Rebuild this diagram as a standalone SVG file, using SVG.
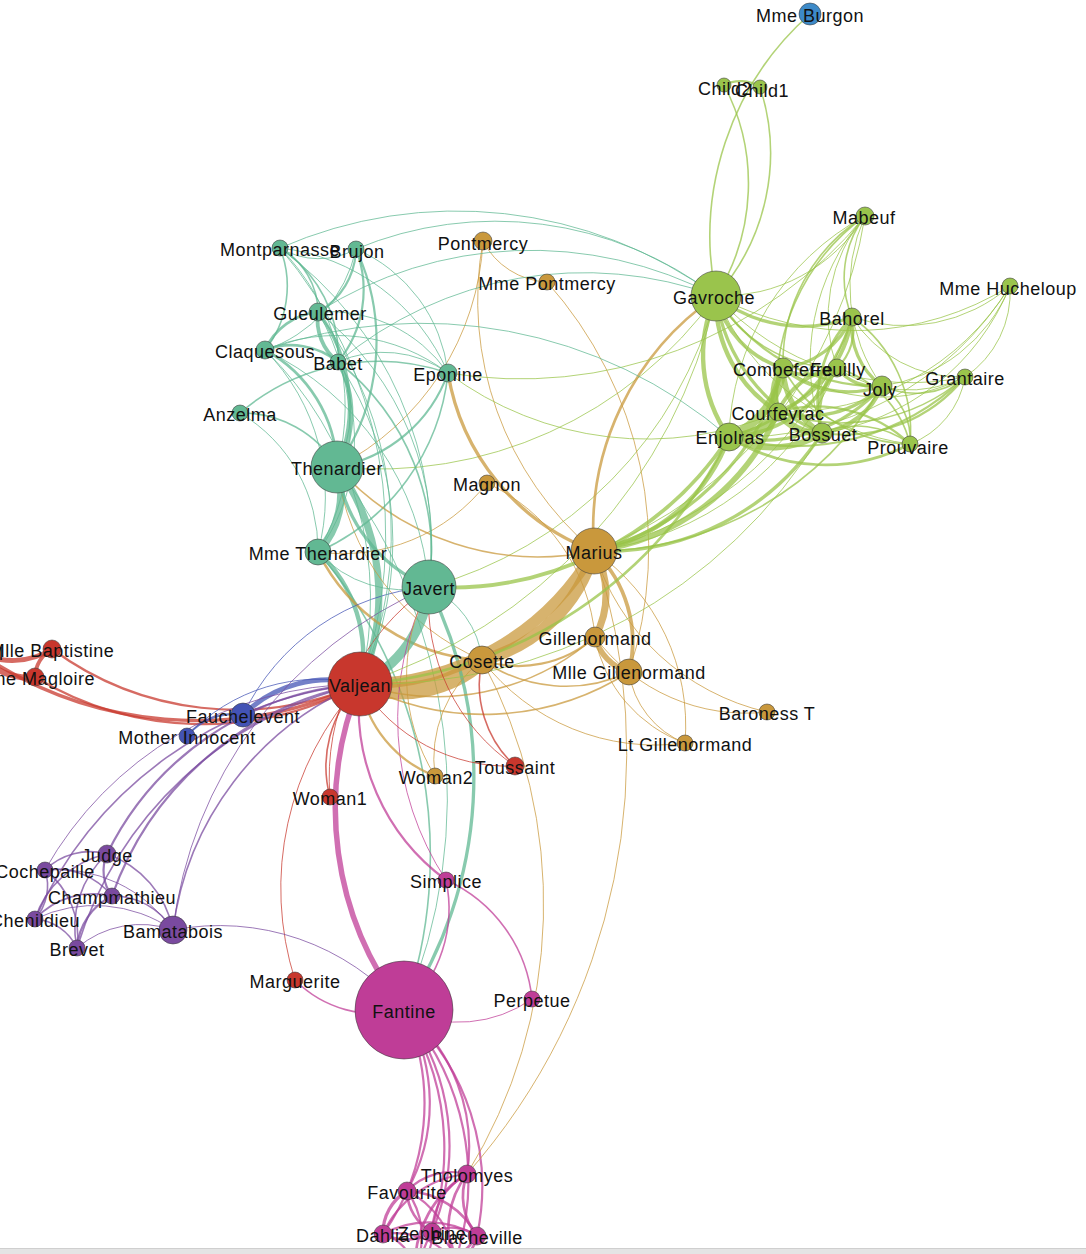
<svg xmlns="http://www.w3.org/2000/svg" width="1086" height="1254" viewBox="0 0 1086 1254">
<style>
.e{fill:none;stroke-opacity:.74}
.r{stroke:#c8372d}.t{stroke:#5fb792}.g{stroke:#c9983c}.n{stroke:#98c348}.b{stroke:#4353b5}.p{stroke:#7a4a9f}.m{stroke:#bf3d97}
.w1{stroke-width:1}.w2{stroke-width:1.6}.w3{stroke-width:2.2}.w4{stroke-width:2.7}.w5{stroke-width:3.3}.w6{stroke-width:3.8}.w7{stroke-width:4.4}.w8{stroke-width:4.9}.w9{stroke-width:5.5}.w10{stroke-width:6}.w12{stroke-width:7.1}.w13{stroke-width:7.7}.w15{stroke-width:8.8}.w17{stroke-width:9.9}.w19{stroke-width:11}.w21{stroke-width:12}.w31{stroke-width:17.5}
.node circle{stroke:#3a3a3a;stroke-width:.8;stroke-opacity:.7}
.node text{font-family:"Liberation Sans",Arial,sans-serif;font-size:18px;letter-spacing:.5px;text-anchor:middle;fill:#111}
.cr{fill:#c8372d}.ct{fill:#62b893}.cg{fill:#c9983c}.cn{fill:#9ac44c}.cb{fill:#4353b5}.cp{fill:#7a4a9f}.cm{fill:#bf3d97}.cl{fill:#3d8ac8}
</style>
<rect width="1086" height="1254" fill="#fff"/>
<g id="edges">
<path class="e r w8" d="M52 649A74 74 0 0 1 -22 652"/>
<path class="e r w10" d="M35 677A62 62 0 0 1 -22 652"/>
<path class="e r w6" d="M35 677A33 33 0 0 1 52 649"/>
<path class="e r w3" d="M360 684A325 325 0 0 1 35 677"/>
<path class="e r w3" d="M360 684A310 310 0 0 1 52 649"/>
<path class="e r w5" d="M360 684A383 383 0 0 1 -22 652"/>
<path class="e r w1" d="M295 980A303 303 0 0 1 360 684"/>
<path class="e m w4" d="M415 1268A107 107 0 0 1 467 1174"/>
<path class="e m w4" d="M455 1262A89 89 0 0 1 467 1174"/>
<path class="e m w4" d="M455 1262A40 40 0 0 1 415 1268"/>
<path class="e m w4" d="M477 1236A63 63 0 0 1 467 1174"/>
<path class="e m w4" d="M477 1236A70 70 0 0 1 415 1268"/>
<path class="e m w4" d="M477 1236A34 34 0 0 1 455 1262"/>
<path class="e m w3" d="M407 1191A62 62 0 0 1 467 1174"/>
<path class="e m w3" d="M407 1191A77 77 0 0 1 415 1268"/>
<path class="e m w3" d="M407 1191A86 86 0 0 1 455 1262"/>
<path class="e m w4" d="M407 1191A83 83 0 0 1 477 1236"/>
<path class="e m w3" d="M383 1234A103 103 0 0 1 467 1174"/>
<path class="e m w3" d="M383 1234A47 47 0 0 1 415 1268"/>
<path class="e m w3" d="M383 1234A77 77 0 0 1 455 1262"/>
<path class="e m w3" d="M383 1234A94 94 0 0 1 477 1236"/>
<path class="e m w5" d="M383 1234A49 49 0 0 1 407 1191"/>
<path class="e m w3" d="M432 1232A68 68 0 0 1 467 1174"/>
<path class="e m w3" d="M432 1232A40 40 0 0 1 415 1268"/>
<path class="e m w3" d="M432 1232A38 38 0 0 1 455 1262"/>
<path class="e m w3" d="M432 1232A45 45 0 0 1 477 1236"/>
<path class="e m w4" d="M432 1232A48 48 0 0 1 407 1191"/>
<path class="e m w4" d="M432 1232A49 49 0 0 1 383 1234"/>
<path class="e m w3" d="M404 1010A176 176 0 0 1 467 1174"/>
<path class="e m w3" d="M404 1010A258 258 0 0 1 415 1268"/>
<path class="e m w3" d="M404 1010A257 257 0 0 1 455 1262"/>
<path class="e m w3" d="M404 1010A238 238 0 0 1 477 1236"/>
<path class="e m w3" d="M404 1010A181 181 0 0 1 407 1191"/>
<path class="e m w3" d="M404 1010A225 225 0 0 1 383 1234"/>
<path class="e m w3" d="M404 1010A224 224 0 0 1 432 1232"/>
<path class="e m w2" d="M404 1010A113 113 0 0 1 295 980"/>
<path class="e m w9" d="M404 1010A329 329 0 0 1 360 684"/>
<path class="e t w2" d="M318 552A466 466 0 0 1 404 1010"/>
<path class="e t w7" d="M318 552A139 139 0 0 1 360 684"/>
<path class="e t w13" d="M337 467A87 87 0 0 1 318 552"/>
<path class="e t w1" d="M337 467A547 547 0 0 1 404 1010"/>
<path class="e t w12" d="M337 467A218 218 0 0 1 360 684"/>
<path class="e g w4" d="M482 660A196 196 0 0 1 318 552"/>
<path class="e g w31" d="M482 660A124 124 0 0 1 360 684"/>
<path class="e g w1" d="M482 660A514 514 0 0 1 467 1174"/>
<path class="e g w1" d="M482 660A241 241 0 0 1 337 467"/>
<path class="e t w17" d="M429 587A119 119 0 0 1 360 684"/>
<path class="e t w5" d="M429 587A424 424 0 0 1 404 1010"/>
<path class="e t w5" d="M429 587A151 151 0 0 1 337 467"/>
<path class="e t w1" d="M429 587A116 116 0 0 1 318 552"/>
<path class="e t w1" d="M429 587A90 90 0 0 1 482 660"/>
<path class="e b w8" d="M243 715A121 121 0 0 1 360 684"/>
<path class="e b w1" d="M243 715A226 226 0 0 1 429 587"/>
<path class="e p w1" d="M173 930A244 244 0 0 1 404 1010"/>
<path class="e p w1" d="M173 930A428 428 0 0 1 429 587"/>
<path class="e p w2" d="M173 930A309 309 0 0 1 360 684"/>
<path class="e m w1" d="M532 999A128 128 0 0 1 404 1010"/>
<path class="e m w2" d="M446 880A147 147 0 0 1 532 999"/>
<path class="e m w3" d="M446 880A214 214 0 0 1 360 684"/>
<path class="e m w2" d="M446 880A137 137 0 0 1 404 1010"/>
<path class="e m w1" d="M446 880A293 293 0 0 1 429 587"/>
<path class="e r w2" d="M330 797A117 117 0 0 1 360 684"/>
<path class="e r w1" d="M330 797A232 232 0 0 1 429 587"/>
<path class="e p w3" d="M107 854A305 305 0 0 1 360 684"/>
<path class="e p w2" d="M107 854A101 101 0 0 1 173 930"/>
<path class="e p w3" d="M112 896A42 42 0 0 1 107 854"/>
<path class="e p w3" d="M112 896A326 326 0 0 1 360 684"/>
<path class="e p w2" d="M112 896A70 70 0 0 1 173 930"/>
<path class="e p w2" d="M77 948A99 99 0 0 1 107 854"/>
<path class="e p w3" d="M77 948A63 63 0 0 1 112 896"/>
<path class="e p w2" d="M77 948A387 387 0 0 1 360 684"/>
<path class="e p w1" d="M77 948A98 98 0 0 1 173 930"/>
<path class="e p w2" d="M35 919A97 97 0 0 1 107 854"/>
<path class="e p w2" d="M35 919A80 80 0 0 1 112 896"/>
<path class="e p w2" d="M35 919A51 51 0 0 1 77 948"/>
<path class="e p w2" d="M35 919A401 401 0 0 1 360 684"/>
<path class="e p w1" d="M35 919A138 138 0 0 1 173 930"/>
<path class="e p w2" d="M45 870A64 64 0 0 1 107 854"/>
<path class="e p w2" d="M45 870A72 72 0 0 1 112 896"/>
<path class="e p w2" d="M45 870A84 84 0 0 1 77 948"/>
<path class="e p w2" d="M45 870A50 50 0 0 1 35 919"/>
<path class="e p w1" d="M45 870A366 366 0 0 1 360 684"/>
<path class="e p w1" d="M45 870A141 141 0 0 1 173 930"/>
<path class="e g w1" d="M483 241A269 269 0 0 1 337 467"/>
<path class="e t w2" d="M448 373A221 221 0 0 1 318 552"/>
<path class="e t w3" d="M448 373A145 145 0 0 1 337 467"/>
<path class="e t w2" d="M240 413A212 212 0 0 1 448 373"/>
<path class="e t w2" d="M240 413A111 111 0 0 1 337 467"/>
<path class="e t w1" d="M240 413A159 159 0 0 1 318 552"/>
<path class="e g w3" d="M435 776A119 119 0 0 1 360 684"/>
<path class="e g w1" d="M435 776A125 125 0 0 1 482 660"/>
<path class="e g w1" d="M435 776A189 189 0 0 1 429 587"/>
<path class="e b w3" d="M187 736A60 60 0 0 1 243 715"/>
<path class="e b w1" d="M187 736A181 181 0 0 1 360 684"/>
<path class="e n w2" d="M716 296A297 297 0 0 1 810 14"/>
<path class="e n w1" d="M716 296A416 416 0 0 1 337 467"/>
<path class="e n w1" d="M716 296A409 409 0 0 1 429 587"/>
<path class="e n w1" d="M716 296A527 527 0 0 1 360 684"/>
<path class="e g w3" d="M595 637A115 115 0 0 1 482 660"/>
<path class="e g w2" d="M595 637A240 240 0 0 1 360 684"/>
<path class="e g w1" d="M487 483A188 188 0 0 1 595 637"/>
<path class="e g w1" d="M487 483A183 183 0 0 1 318 552"/>
<path class="e g w9" d="M629 672A49 49 0 0 1 595 637"/>
<path class="e g w2" d="M629 672A147 147 0 0 1 482 660"/>
<path class="e g w2" d="M629 672A269 269 0 0 1 360 684"/>
<path class="e g w1" d="M547 282A399 399 0 0 1 629 672"/>
<path class="e g w1" d="M547 282A76 76 0 0 1 483 241"/>
<path class="e g w1" d="M685 743A90 90 0 0 1 629 672"/>
<path class="e g w1" d="M685 743A139 139 0 0 1 595 637"/>
<path class="e g w1" d="M685 743A219 219 0 0 1 482 660"/>
<path class="e g w6" d="M594 551A126 126 0 0 1 629 672"/>
<path class="e g w12" d="M594 551A86 86 0 0 1 595 637"/>
<path class="e g w1" d="M594 551A329 329 0 0 1 483 241"/>
<path class="e g w1" d="M594 551A212 212 0 0 1 685 743"/>
<path class="e g w21" d="M594 551A156 156 0 0 1 482 660"/>
<path class="e g w19" d="M594 551A269 269 0 0 1 360 684"/>
<path class="e g w1" d="M594 551A636 636 0 0 1 467 1174"/>
<path class="e g w2" d="M594 551A270 270 0 0 1 337 467"/>
<path class="e g w5" d="M594 551A230 230 0 0 1 448 373"/>
<path class="e g w4" d="M594 551A283 283 0 0 1 716 296"/>
<path class="e g w1" d="M767 712A188 188 0 0 1 595 637"/>
<path class="e g w1" d="M767 712A236 236 0 0 1 594 551"/>
<path class="e n w1" d="M865 216A431 431 0 0 1 594 551"/>
<path class="e n w1" d="M865 216A446 446 0 0 1 448 373"/>
<path class="e n w1" d="M865 216A169 169 0 0 1 716 296"/>
<path class="e n w7" d="M729 437A177 177 0 0 1 594 551"/>
<path class="e n w7" d="M729 437A142 142 0 0 1 716 296"/>
<path class="e n w6" d="M729 437A335 335 0 0 1 429 587"/>
<path class="e n w1" d="M729 437A259 259 0 0 1 865 216"/>
<path class="e n w4" d="M729 437A444 444 0 0 1 360 684"/>
<path class="e n w15" d="M783 368A88 88 0 0 1 729 437"/>
<path class="e n w5" d="M783 368A263 263 0 0 1 594 551"/>
<path class="e n w6" d="M783 368A98 98 0 0 1 716 296"/>
<path class="e n w2" d="M783 368A173 173 0 0 1 865 216"/>
<path class="e n w1" d="M910 444A244 244 0 0 1 716 296"/>
<path class="e n w4" d="M910 444A181 181 0 0 1 729 437"/>
<path class="e n w2" d="M910 444A148 148 0 0 1 783 368"/>
<path class="e n w2" d="M837 368A141 141 0 0 1 716 296"/>
<path class="e n w6" d="M837 368A128 128 0 0 1 729 437"/>
<path class="e n w2" d="M837 368A105 105 0 0 1 910 444"/>
<path class="e n w5" d="M837 368A54 54 0 0 1 783 368"/>
<path class="e n w1" d="M837 368A155 155 0 0 1 865 216"/>
<path class="e n w1" d="M837 368A304 304 0 0 1 594 551"/>
<path class="e n w9" d="M778 412A231 231 0 0 1 594 551"/>
<path class="e n w17" d="M778 412A55 55 0 0 1 729 437"/>
<path class="e n w13" d="M778 412A44 44 0 0 1 783 368"/>
<path class="e n w7" d="M778 412A132 132 0 0 1 716 296"/>
<path class="e n w2" d="M778 412A214 214 0 0 1 865 216"/>
<path class="e n w1" d="M778 412A332 332 0 0 1 448 373"/>
<path class="e n w6" d="M778 412A74 74 0 0 1 837 368"/>
<path class="e n w3" d="M778 412A136 136 0 0 1 910 444"/>
<path class="e n w5" d="M852 317A86 86 0 0 1 783 368"/>
<path class="e n w5" d="M852 317A138 138 0 0 1 716 296"/>
<path class="e n w6" d="M852 317A120 120 0 0 1 778 412"/>
<path class="e n w2" d="M852 317A102 102 0 0 1 865 216"/>
<path class="e n w4" d="M852 317A172 172 0 0 1 729 437"/>
<path class="e n w3" d="M852 317A53 53 0 0 1 837 368"/>
<path class="e n w2" d="M852 317A140 140 0 0 1 910 444"/>
<path class="e n w1" d="M852 317A348 348 0 0 1 594 551"/>
<path class="e n w5" d="M822 433A257 257 0 0 1 594 551"/>
<path class="e n w12" d="M822 433A49 49 0 0 1 778 412"/>
<path class="e n w5" d="M822 433A173 173 0 0 1 716 296"/>
<path class="e n w4" d="M822 433A120 120 0 0 1 852 317"/>
<path class="e n w10" d="M822 433A93 93 0 0 1 729 437"/>
<path class="e n w6" d="M822 433A67 67 0 0 1 837 368"/>
<path class="e n w2" d="M822 433A89 89 0 0 1 910 444"/>
<path class="e n w9" d="M822 433A76 76 0 0 1 783 368"/>
<path class="e n w1" d="M822 433A221 221 0 0 1 865 216"/>
<path class="e n w1" d="M822 433A526 526 0 0 1 360 684"/>
<path class="e n w5" d="M882 386A75 75 0 0 1 852 317"/>
<path class="e n w7" d="M882 386A76 76 0 0 1 822 433"/>
<path class="e n w3" d="M882 386A189 189 0 0 1 716 296"/>
<path class="e n w5" d="M882 386A107 107 0 0 1 778 412"/>
<path class="e n w5" d="M882 386A161 161 0 0 1 729 437"/>
<path class="e n w5" d="M882 386A48 48 0 0 1 837 368"/>
<path class="e n w2" d="M882 386A64 64 0 0 1 910 444"/>
<path class="e n w5" d="M882 386A101 101 0 0 1 783 368"/>
<path class="e n w1" d="M882 386A171 171 0 0 1 865 216"/>
<path class="e n w2" d="M882 386A332 332 0 0 1 594 551"/>
<path class="e n w3" d="M965 377A154 154 0 0 1 822 433"/>
<path class="e n w3" d="M965 377A244 244 0 0 1 729 437"/>
<path class="e n w1" d="M965 377A182 182 0 0 1 783 368"/>
<path class="e n w2" d="M965 377A190 190 0 0 1 778 412"/>
<path class="e n w2" d="M965 377A83 83 0 0 1 882 386"/>
<path class="e n w1" d="M965 377A262 262 0 0 1 716 296"/>
<path class="e n w1" d="M965 377A128 128 0 0 1 852 317"/>
<path class="e n w1" d="M965 377A128 128 0 0 1 837 368"/>
<path class="e n w1" d="M965 377A87 87 0 0 1 910 444"/>
<path class="e t w5" d="M318 312A156 156 0 0 1 337 467"/>
<path class="e t w1" d="M318 312A374 374 0 0 1 360 684"/>
<path class="e t w1" d="M318 312A240 240 0 0 1 318 552"/>
<path class="e t w1" d="M318 312A297 297 0 0 1 429 587"/>
<path class="e t w1" d="M318 312A398 398 0 0 1 716 296"/>
<path class="e t w1" d="M318 312A144 144 0 0 1 448 373"/>
<path class="e t w6" d="M338 362A105 105 0 0 1 337 467"/>
<path class="e t w6" d="M338 362A54 54 0 0 1 318 312"/>
<path class="e t w1" d="M338 362A323 323 0 0 1 360 684"/>
<path class="e t w1" d="M338 362A191 191 0 0 1 318 552"/>
<path class="e t w2" d="M338 362A243 243 0 0 1 429 587"/>
<path class="e t w1" d="M338 362A384 384 0 0 1 716 296"/>
<path class="e t w1" d="M338 362A111 111 0 0 1 448 373"/>
<path class="e t w4" d="M265 350A137 137 0 0 1 337 467"/>
<path class="e t w4" d="M265 350A74 74 0 0 1 338 362"/>
<path class="e t w4" d="M265 350A65 65 0 0 1 318 312"/>
<path class="e t w1" d="M265 350A347 347 0 0 1 360 684"/>
<path class="e t w1" d="M265 350A209 209 0 0 1 318 552"/>
<path class="e t w1" d="M265 350A288 288 0 0 1 429 587"/>
<path class="e t w1" d="M265 350A184 184 0 0 1 448 373"/>
<path class="e t w1" d="M265 350A472 472 0 0 1 729 437"/>
<path class="e t w1" d="M280 248A370 370 0 0 1 429 587"/>
<path class="e t w2" d="M280 248A128 128 0 0 1 338 362"/>
<path class="e t w2" d="M280 248A74 74 0 0 1 318 312"/>
<path class="e t w2" d="M280 248A103 103 0 0 1 265 350"/>
<path class="e t w1" d="M280 248A443 443 0 0 1 360 684"/>
<path class="e t w1" d="M280 248A439 439 0 0 1 716 296"/>
<path class="e t w1" d="M280 248A209 209 0 0 1 448 373"/>
<path class="e t w1" d="M280 248A226 226 0 0 1 337 467"/>
<path class="e r w2" d="M515 766A111 111 0 0 1 482 660"/>
<path class="e r w1" d="M515 766A199 199 0 0 1 429 587"/>
<path class="e r w1" d="M515 766A175 175 0 0 1 360 684"/>
<path class="e n w2" d="M760 87A214 214 0 0 1 716 296"/>
<path class="e n w2" d="M724 85A211 211 0 0 1 716 296"/>
<path class="e n w3" d="M724 85A36 36 0 0 1 760 87"/>
<path class="e t w3" d="M356 249A114 114 0 0 1 338 362"/>
<path class="e t w3" d="M356 249A74 74 0 0 1 318 312"/>
<path class="e t w3" d="M356 249A219 219 0 0 1 337 467"/>
<path class="e t w1" d="M356 249A363 363 0 0 1 716 296"/>
<path class="e t w1" d="M356 249A154 154 0 0 1 448 373"/>
<path class="e t w1" d="M356 249A136 136 0 0 1 265 350"/>
<path class="e t w1" d="M356 249A76 76 0 0 1 280 248"/>
<path class="e n w1" d="M1010 286A239 239 0 0 1 822 433"/>
<path class="e n w1" d="M1010 286A162 162 0 0 1 882 386"/>
<path class="e n w1" d="M1010 286A102 102 0 0 1 965 377"/>
<path class="e n w1" d="M1010 286A161 161 0 0 1 852 317"/>
<path class="e n w1" d="M1010 286A264 264 0 0 1 778 412"/>
<path class="e n w1" d="M1010 286A294 294 0 0 1 716 296"/>
<path class="e n w1" d="M1010 286A319 319 0 0 1 729 437"/>
</g>
<g id="nodes">
<g id="node-Myriel" class="node"><circle class="cr" cx="-22" cy="652" r="10"/><text x="-22" y="659.5">Myriel</text></g>
<g id="node-MlleBaptistine" class="node"><circle class="cr" cx="52" cy="649" r="9"/><text x="52" y="656.5">Mlle Baptistine</text></g>
<g id="node-MmeMagloire" class="node"><circle class="cr" cx="35" cy="677" r="9"/><text x="35" y="684.5">Mme Magloire</text></g>
<g id="node-Fauchelevent" class="node"><circle class="cb" cx="243" cy="715" r="12"/><text x="243" y="722.5">Fauchelevent</text></g>
<g id="node-MotherInnocent" class="node"><circle class="cb" cx="187" cy="736" r="8"/><text x="187" y="743.5">Mother Innocent</text></g>
<g id="node-Valjean" class="node"><circle class="cr" cx="360" cy="684" r="32"/><text x="360" y="691.5">Valjean</text></g>
<g id="node-Woman1" class="node"><circle class="cr" cx="330" cy="797" r="8"/><text x="330" y="804.5">Woman1</text></g>
<g id="node-Marguerite" class="node"><circle class="cr" cx="295" cy="980" r="8"/><text x="295" y="987.5">Marguerite</text></g>
<g id="node-Toussaint" class="node"><circle class="cr" cx="515" cy="766" r="9"/><text x="515" y="773.5">Toussaint</text></g>
<g id="node-Judge" class="node"><circle class="cp" cx="107" cy="854" r="9"/><text x="107" y="861.5">Judge</text></g>
<g id="node-Cochepaille" class="node"><circle class="cp" cx="45" cy="870" r="8"/><text x="45" y="877.5">Cochepaille</text></g>
<g id="node-Champmathieu" class="node"><circle class="cp" cx="112" cy="896" r="8"/><text x="112" y="903.5">Champmathieu</text></g>
<g id="node-Chenildieu" class="node"><circle class="cp" cx="35" cy="919" r="8"/><text x="35" y="926.5">Chenildieu</text></g>
<g id="node-Brevet" class="node"><circle class="cp" cx="77" cy="948" r="8"/><text x="77" y="955.5">Brevet</text></g>
<g id="node-Bamatabois" class="node"><circle class="cp" cx="173" cy="930" r="14"/><text x="173" y="937.5">Bamatabois</text></g>
<g id="node-Fantine" class="node"><circle class="cm" cx="404" cy="1010" r="49"/><text x="404" y="1017.5">Fantine</text></g>
<g id="node-Simplice" class="node"><circle class="cm" cx="446" cy="880" r="8"/><text x="446" y="887.5">Simplice</text></g>
<g id="node-Perpetue" class="node"><circle class="cm" cx="532" cy="999" r="8"/><text x="532" y="1006.5">Perpetue</text></g>
<g id="node-Listolier" class="node"><circle class="cm" cx="415" cy="1268" r="9"/></g>
<g id="node-Fameuil" class="node"><circle class="cm" cx="455" cy="1262" r="9"/></g>
<g id="node-Tholomyes" class="node"><circle class="cm" cx="467" cy="1174" r="9"/><text x="467" y="1181.5">Tholomyes</text></g>
<g id="node-Favourite" class="node"><circle class="cm" cx="407" cy="1191" r="9"/><text x="407" y="1198.5">Favourite</text></g>
<g id="node-Dahlia" class="node"><circle class="cm" cx="383" cy="1234" r="9"/><text x="383" y="1241.5">Dahlia</text></g>
<g id="node-Zephine" class="node"><circle class="cm" cx="432" cy="1232" r="9"/><text x="432" y="1239.5">Zephine</text></g>
<g id="node-Blacheville" class="node"><circle class="cm" cx="477" cy="1236" r="9"/><text x="477" y="1243.5">Blacheville</text></g>
<g id="node-Montparnasse" class="node"><circle class="ct" cx="280" cy="248" r="8"/><text x="280" y="255.5">Montparnasse</text></g>
<g id="node-Brujon" class="node"><circle class="ct" cx="356" cy="249" r="8"/><text x="357" y="258">Brujon</text></g>
<g id="node-Gueulemer" class="node"><circle class="ct" cx="318" cy="312" r="9"/><text x="320" y="319.5">Gueulemer</text></g>
<g id="node-Claquesous" class="node"><circle class="ct" cx="265" cy="350" r="9"/><text x="265" y="357.5">Claquesous</text></g>
<g id="node-Babet" class="node"><circle class="ct" cx="338" cy="362" r="8"/><text x="338" y="369.5">Babet</text></g>
<g id="node-Eponine" class="node"><circle class="ct" cx="448" cy="373" r="9"/><text x="448" y="380.5">Eponine</text></g>
<g id="node-Anzelma" class="node"><circle class="ct" cx="240" cy="413" r="8"/><text x="240" y="420.5">Anzelma</text></g>
<g id="node-Thenardier" class="node"><circle class="ct" cx="337" cy="467" r="26"/><text x="337" y="475">Thenardier</text></g>
<g id="node-MmeThenardier" class="node"><circle class="ct" cx="318" cy="552" r="13"/><text x="318" y="559.5">Mme Thenardier</text></g>
<g id="node-Javert" class="node"><circle class="ct" cx="429" cy="587" r="27"/><text x="429" y="594.5">Javert</text></g>
<g id="node-Pontmercy" class="node"><circle class="cg" cx="483" cy="241" r="9"/><text x="483" y="249.5">Pontmercy</text></g>
<g id="node-MmePontmercy" class="node"><circle class="cg" cx="547" cy="282" r="8"/><text x="547" y="289.5">Mme Pontmercy</text></g>
<g id="node-Magnon" class="node"><circle class="cg" cx="487" cy="483" r="8"/><text x="487" y="490.5">Magnon</text></g>
<g id="node-Marius" class="node"><circle class="cg" cx="594" cy="551" r="23"/><text x="594" y="558.5">Marius</text></g>
<g id="node-Gillenormand" class="node"><circle class="cg" cx="595" cy="637" r="10"/><text x="595" y="644.5">Gillenormand</text></g>
<g id="node-MlleGillenormand" class="node"><circle class="cg" cx="629" cy="672" r="13"/><text x="629" y="679">Mlle Gillenormand</text></g>
<g id="node-Cosette" class="node"><circle class="cg" cx="482" cy="660" r="14"/><text x="482" y="667.5">Cosette</text></g>
<g id="node-Woman2" class="node"><circle class="cg" cx="435" cy="776" r="8"/><text x="436" y="783.5">Woman2</text></g>
<g id="node-BaronessT" class="node"><circle class="cg" cx="767" cy="712" r="8"/><text x="767" y="719.5">Baroness T</text></g>
<g id="node-LtGillenormand" class="node"><circle class="cg" cx="685" cy="743" r="8"/><text x="685" y="750.5">Lt Gillenormand</text></g>
<g id="node-MmeBurgon" class="node"><circle class="cl" cx="810" cy="14" r="11"/><text x="810" y="21.5">Mme Burgon</text></g>
<g id="node-Child2" class="node"><circle class="cn" cx="724" cy="85" r="7"/><text x="725" y="95">Child2</text></g>
<g id="node-Child1" class="node"><circle class="cn" cx="760" cy="87" r="7"/><text x="762" y="97">Child1</text></g>
<g id="node-Mabeuf" class="node"><circle class="cn" cx="865" cy="216" r="9"/><text x="864" y="223.5">Mabeuf</text></g>
<g id="node-Gavroche" class="node"><circle class="cn" cx="716" cy="296" r="25"/><text x="714" y="303.5">Gavroche</text></g>
<g id="node-MmeHucheloup" class="node"><circle class="cn" cx="1010" cy="286" r="8"/><text x="1008" y="294.5">Mme Hucheloup</text></g>
<g id="node-Bahorel" class="node"><circle class="cn" cx="852" cy="317" r="9"/><text x="852" y="324.5">Bahorel</text></g>
<g id="node-Feuilly" class="node"><circle class="cn" cx="837" cy="368" r="9"/><text x="838" y="375.5">Feuilly</text></g>
<g id="node-Combeferre" class="node"><circle class="cn" cx="783" cy="368" r="10"/><text x="783" y="375.5">Combeferre</text></g>
<g id="node-Joly" class="node"><circle class="cn" cx="882" cy="386" r="10"/><text x="880" y="395.5">Joly</text></g>
<g id="node-Grantaire" class="node"><circle class="cn" cx="965" cy="377" r="8"/><text x="965" y="384.5">Grantaire</text></g>
<g id="node-Bossuet" class="node"><circle class="cn" cx="822" cy="433" r="10"/><text x="823" y="440.5">Bossuet</text></g>
<g id="node-Courfeyrac" class="node"><circle class="cn" cx="778" cy="412" r="9"/><text x="778" y="419.5">Courfeyrac</text></g>
<g id="node-Enjolras" class="node"><circle class="cn" cx="729" cy="437" r="14"/><text x="730" y="444">Enjolras</text></g>
<g id="node-Prouvaire" class="node"><circle class="cn" cx="910" cy="444" r="8"/><text x="908" y="454">Prouvaire</text></g>
</g>
<rect x="0" y="1248" width="1086" height="6" fill="#e4e4e4"/>
<line x1="0" y1="1248.5" x2="1086" y2="1248.5" stroke="#cfcfcf"/>
</svg>
